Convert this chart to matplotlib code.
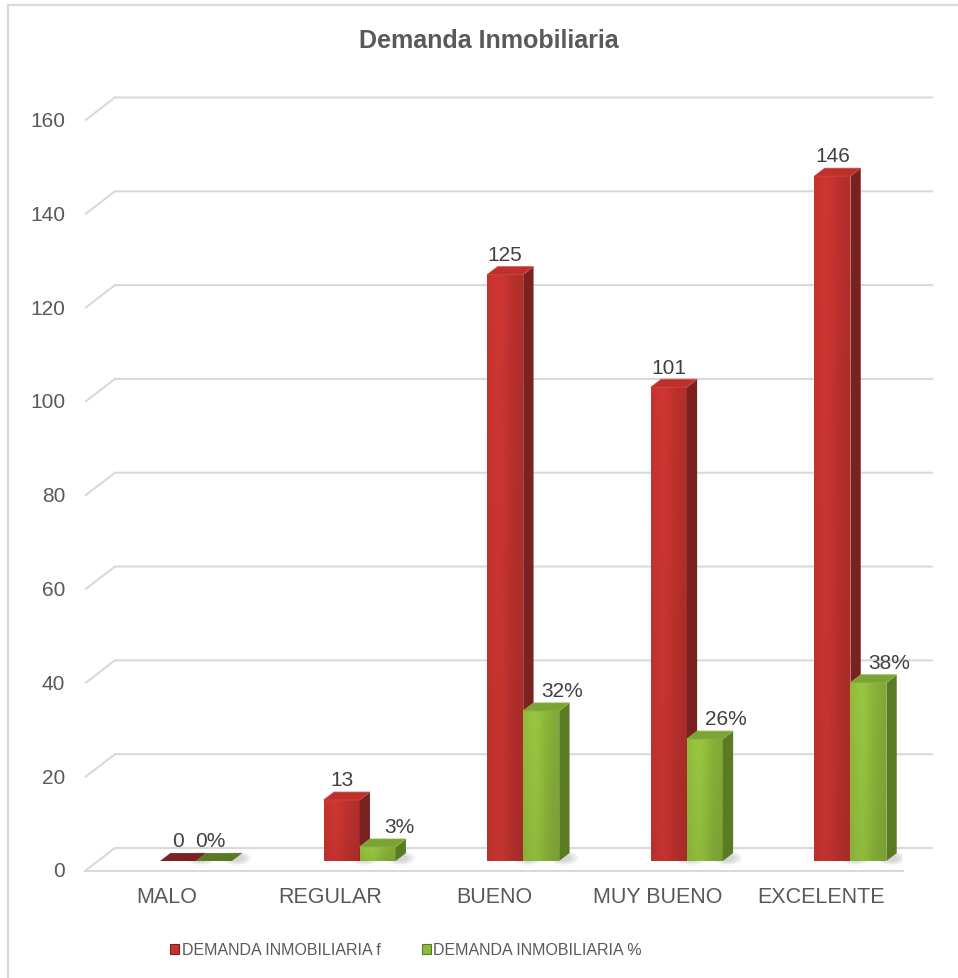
import numpy as np
import matplotlib
matplotlib.use("Agg")
import matplotlib.pyplot as plt
from matplotlib.patches import Polygon, Rectangle, Ellipse
from matplotlib.colors import to_rgb

plt.rcParams['font.family'] = ['Liberation Sans', 'DejaVu Sans']

# data
categories = ["MALO", "REGULAR", "BUENO", "MUY BUENO", "EXCELENTE"]
freq = [0, 13, 125, 101, 146]
pct = [0, 3, 32, 26, 38]
series_names = ["DEMANDA INMOBILIARIA f", "DEMANDA INMOBILIARIA %"]
yticks = [0, 20, 40, 60, 80, 100, 120, 140, 160]

# style
GRID = "#d9d9d9"
TXT = "#595959"
LBL = "#404040"
red = dict(front="#c4332f", side="#7a2220", top="#bf302d")
green = dict(front="#8fbb3c", side="#5a7b24", top="#7ca432")

# 3D-ish geometry (data units)
DXB, DYB = 0.183, 4.9      # offset from front plane to back wall
F0, F1 = 0.435, 0.78       # bar depth range as fraction of floor depth
BAR_W = 0.22
RED_X0 = -0.121

fig = plt.figure(figsize=(9.58, 9.79), dpi=100)
ax = fig.add_axes([85 / 958, (979 - 872) / 979, (903 - 85) / 958, 774 / 979])
ax.set_xlim(-0.5, 4.5)
ax.set_ylim(0, 165)
ax.axis("off")

# border of the chart area
fig.patches.append(Rectangle((8 / 958, -0.05), 1.1, 1.05 - 6 / 979, transform=fig.transFigure,
                             fill=False, ec="#d9d9d9", lw=1.6, zorder=0))

# gridlines: left diagonal + back wall
for v in yticks:
    ax.plot([-0.5, -0.5 + DXB, 4.5 + DXB], [v, v + DYB, v + DYB],
            color=GRID, lw=1.5, clip_on=False, zorder=1, solid_capstyle="butt")
    ax.text(-0.5 - 0.12, v, str(v), ha="right", va="center", fontsize=15, color=TXT)
# floor front edge
ax.plot([-0.5, 4.5], [0, 0], color=GRID, lw=1.5, clip_on=False, zorder=1)


def shade(c, k):
    r = np.array(to_rgb(c))
    if k >= 1:
        return r + (1 - r) * (k - 1)
    return r * k


def front_gradient(c):
    xs = np.linspace(0, 1, 40)
    hprof = 0.95 + 0.10 * np.exp(-((xs - 0.35) / 0.3) ** 2) - 0.07 * xs
    ys = np.linspace(0, 1, 60)[:, None]
    vprof = 0.97 + 0.06 * ys
    k = vprof * hprof[None, :]
    base = np.array(to_rgb(c))
    img = np.clip(base[None, None, :] * k[:, :, None], 0, 1)
    return img[::-1]


def draw_bar(x0, v, col, z):
    fx, fy = DXB * F0, DYB * F0
    bx, by = DXB * F1, DYB * F1
    xl, xr = x0 + fx, x0 + BAR_W + fx
    # soft shadow on the floor
    for s in range(5):
        ax.add_patch(Ellipse((xr + 0.03, fy + 0.6), 0.18 - s * 0.025, 3.0 - s * 0.4,
                             color="#808080", alpha=0.07, lw=0, zorder=z - 0.5))
    if v > 0:
        ax.imshow(front_gradient(col["front"]), extent=[xl, xr, fy, v + fy],
                  aspect="auto", zorder=z, interpolation="bilinear")
    side = [(xr, fy), (x0 + BAR_W + bx, by), (x0 + BAR_W + bx, v + by), (xr, v + fy)]
    ax.add_patch(Polygon(side, closed=True, fc=col["side"], ec="none", zorder=z))
    top = [(xl, v + fy), (xr, v + fy), (x0 + BAR_W + bx, v + by), (x0 + bx, v + by)]
    ax.add_patch(Polygon(top, closed=True, fc=col["top"] if v > 0 else col["side"],
                         ec=shade(col["top"], 1.12) if v > 0 else "none", lw=0.6, zorder=z + 0.1))
    return xl, xr, v + fy


for i, cat in enumerate(categories):
    x_red = i + RED_X0
    x_grn = x_red + BAR_W
    xl, xr, yt = draw_bar(x_red, freq[i], red, 3 + i)
    ax.text((xl + xr) / 2, yt + 4.3, str(freq[i]), ha="center", va="center",
            fontsize=15, color=LBL, zorder=10)
    xl, xr, yt = draw_bar(x_grn, pct[i], green, 3.2 + i)
    ax.text((xl + xr) / 2 + (0.13 if pct[i] > 0 else -0.02), yt + 4.3, f"{pct[i]}%",
            ha="center", va="center", fontsize=15, color=LBL, zorder=10)
    ax.text(i, -5.4, cat, ha="center", va="center", fontsize=15.5, color=TXT)

ax.set_xlim(-0.5, 4.5)
ax.set_ylim(0, 165)

fig.text(0.51, 1 - 41 / 979, "Demanda Inmobiliaria", ha="center", va="center",
         fontsize=18, fontweight="bold", color=TXT)

handles = [Rectangle((0, 0), 1, 1, fc=red["front"], ec=red["side"], lw=0.8),
           Rectangle((0, 0), 1, 1, fc=green["front"], ec=green["side"], lw=0.8)]
leg = fig.legend(handles, series_names, loc="center", bbox_to_anchor=(406 / 958, 1 - 951 / 979),
                 ncol=2, frameon=False, fontsize=11.5, handlelength=0.55, handleheight=0.55,
                 handletextpad=0.15, columnspacing=2.6, labelcolor=TXT)

fig.savefig("out.png", dpi=100)
